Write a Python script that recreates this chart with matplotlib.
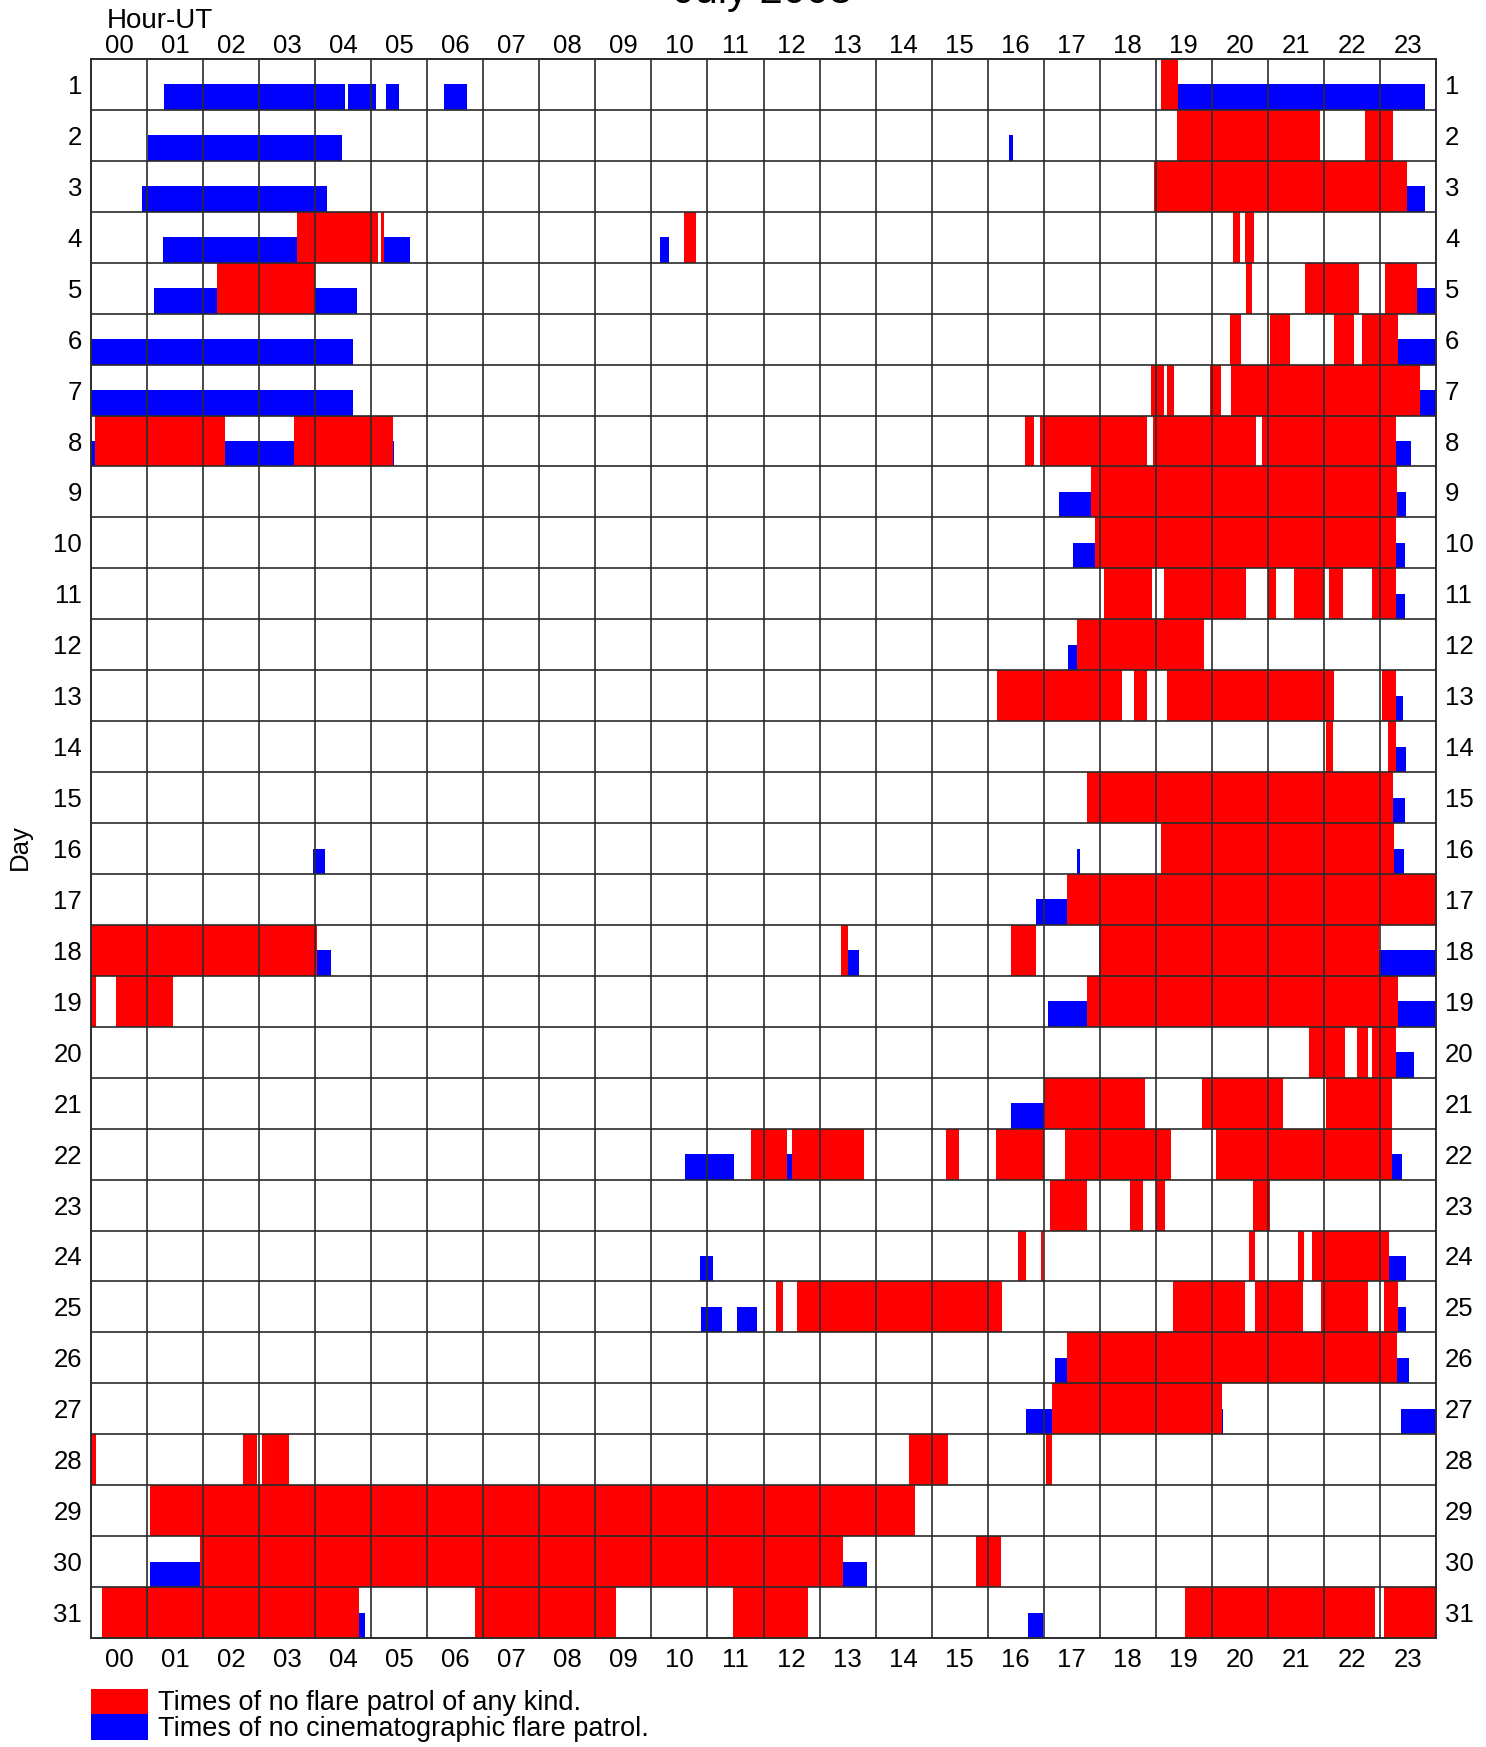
import matplotlib
matplotlib.use("Agg")
import matplotlib.pyplot as plt
from matplotlib.patches import Rectangle

plt.rcParams['font.family'] = ['Liberation Sans', 'DejaVu Sans']

# times of no flare patrol of any kind (day, start hour, end hour)
red_day = [1, 2, 2, 3,
           4, 4, 4, 4, 4,
           5, 5, 5, 5,
           6, 6, 6, 6,
           7, 7, 7, 7,
           8, 8, 8, 8, 8, 8,
           9, 10,
           11, 11, 11, 11, 11, 11,
           12,
           13, 13, 13, 13,
           14, 14, 15, 16, 17,
           18, 18, 18, 18,
           19, 19, 19,
           20, 20, 20,
           21, 21, 21,
           22, 22, 22, 22, 22, 22,
           23, 23, 23, 23,
           24, 24, 24, 24, 24,
           25, 25, 25, 25, 25, 25,
           26, 27,
           28, 28, 28, 28, 28,
           29, 30, 30,
           31, 31, 31, 31, 31]
red_start = [19.10, 19.37, 22.73, 18.96,
             3.68, 5.18, 10.59, 20.38, 20.59,
             2.25, 20.61, 21.67, 23.09,
             20.32, 21.04, 22.18, 22.68,
             18.91, 19.20, 19.96, 20.34,
             0.07, 3.62, 16.66, 16.93, 18.95, 20.90,
             17.85, 17.91,
             18.07, 19.14, 21.01, 21.46, 22.09, 22.85,
             17.59,
             16.16, 18.61, 19.20, 23.03,
             22.04, 23.14, 17.78, 19.09, 17.41,
             0.00, 13.39, 16.42, 17.99,
             0.00, 0.45, 17.78,
             21.73, 22.59, 22.85,
             17.00, 19.83, 22.03,
             11.77, 12.50, 15.25, 16.14, 17.38, 20.07,
             17.11, 18.54, 19.00, 20.73,
             16.55, 16.96, 20.66, 21.53, 21.78,
             12.23, 12.59, 19.30, 20.77, 21.95, 23.07,
             17.41, 17.14,
             0.00, 2.71, 3.06, 14.59, 17.04,
             1.05, 1.95, 15.79,
             0.20, 6.86, 11.45, 19.52, 23.07]
red_end = [19.39, 21.93, 23.23, 23.48,
           5.12, 5.22, 10.79, 20.50, 20.75,
           4.00, 20.72, 22.62, 23.66,
           20.52, 21.39, 22.54, 23.32,
           19.14, 19.33, 20.16, 23.72,
           2.40, 5.39, 16.82, 18.85, 20.79, 23.28,
           23.30, 23.28,
           18.93, 20.61, 21.14, 22.00, 22.34, 23.28,
           19.86,
           18.39, 18.85, 22.18, 23.28,
           22.16, 23.28, 23.23, 23.25, 24.00,
           4.03, 13.50, 16.86, 22.99,
           0.09, 1.46, 23.32,
           22.37, 22.78, 23.28,
           18.81, 21.27, 23.21,
           12.42, 13.80, 15.48, 17.00, 19.27, 23.21,
           17.78, 18.78, 19.17, 21.04,
           16.69, 16.99, 20.77, 21.64, 23.17,
           12.34, 16.26, 20.59, 21.63, 22.78, 23.32,
           23.30, 20.18,
           0.09, 2.96, 3.53, 15.30, 17.14,
           14.71, 13.41, 16.23,
           4.78, 9.36, 12.79, 22.91, 24.00]

# times of no cinematographic flare patrol
blue_day = [1, 1, 1, 1, 1,
            2, 2, 3, 3,
            4, 4, 4,
            5, 5, 5,
            6, 6, 7, 7, 8, 8,
            9, 9, 10, 10, 11, 12, 13, 14, 15,
            16, 16, 16, 17,
            18, 18, 18,
            19, 19, 20, 21,
            22, 22, 22,
            24, 24,
            25, 25, 25,
            26, 26, 27, 27,
            30, 30, 31, 31]
blue_start = [1.30, 4.59, 5.26, 6.30, 19.39,
              1.02, 16.38, 0.91, 23.48,
              1.29, 5.23, 10.16,
              1.12, 4.00, 23.66,
              0.00, 23.32, 0.00, 23.72, 0.00, 23.28,
              17.28, 23.30, 17.52, 23.28, 23.28, 17.43, 23.28, 23.28, 23.23,
              3.96, 17.60, 23.25, 16.87,
              4.03, 13.50, 22.99,
              17.07, 23.32, 23.28, 16.41,
              10.60, 12.42, 23.21,
              10.86, 23.17,
              10.89, 11.53, 23.32,
              17.21, 23.30, 16.68, 23.37,
              1.05, 13.41, 4.78, 16.72]
blue_end = [4.53, 5.09, 5.50, 6.71, 23.81,
            4.48, 16.46, 4.21, 23.80,
            3.68, 5.70, 10.31,
            2.25, 4.74, 24.00,
            4.67, 24.00, 4.67, 24.00, 5.41, 23.55,
            17.85, 23.47, 17.91, 23.44, 23.44, 17.59, 23.41, 23.47, 23.44,
            4.18, 17.64, 23.43, 17.41,
            4.28, 13.70, 24.00,
            17.78, 24.00, 23.61, 17.00,
            11.48, 12.50, 23.39,
            11.10, 23.47,
            11.26, 11.89, 23.47,
            17.41, 23.52, 20.20, 24.00,
            1.95, 13.84, 4.89, 16.98]

days = list(range(1, 32))
hour_labels = ["%02d" % h for h in range(24)]

W, H = 1486, 1747
fig = plt.figure(figsize=(W / 100, H / 100), dpi=100)
ax = fig.add_axes([91 / W, 1 - 1638 / H, 1345 / W, 1579 / H])

# blue sits in the lower half of each day row, red fills the whole row
ax.barh([d + 0.25 for d in blue_day], [e - s for s, e in zip(blue_start, blue_end)],
        left=blue_start, height=0.5, color="#0000ff", linewidth=0, zorder=1)
ax.barh(red_day, [e - s for s, e in zip(red_start, red_end)],
        left=red_start, height=1.0, color="#ff0000", linewidth=0, zorder=2)

ax.set_xlim(0, 24)
ax.set_ylim(31.5, 0.5)

gc = "#2b2b2b"
ax.vlines(range(1, 24), 0.5, 31.5, color=gc, linewidth=1.2, zorder=3)
ax.hlines([d + 0.5 for d in days[:-1]], 0, 24, color=gc, linewidth=1.2, zorder=3)
for s in ax.spines.values():
    s.set_color(gc)
    s.set_linewidth(1.4)

fs = 18.5
ticks = [h + 0.5 for h in range(24)]
ax.set_xticks(ticks)
ax.set_xticklabels(hour_labels, fontsize=fs)
ax.tick_params(axis="x", length=0, top=False, bottom=False,
               labeltop=False, labelbottom=True, pad=7)
top = ax.secondary_xaxis("top")
top.set_xticks(ticks)
top.set_xticklabels(hour_labels, fontsize=fs)
top.tick_params(length=0, pad=1)
top.spines["top"].set_visible(False)

ax.set_yticks(days)
ax.set_yticklabels([str(d) for d in days], fontsize=fs)
ax.tick_params(axis="y", length=0, left=False, right=False,
               labelleft=True, labelright=True, pad=6.5)

fig.text(763 / W, 1 - 3.5 / H, "July 2008", fontsize=30, ha="center", va="baseline")
fig.text(107 / W, 1 - 28 / H, "Hour-UT", fontsize=20, ha="left", va="baseline")
fig.text(20 / W, 1 - 847 / H, "Day", fontsize=fs, rotation=90, ha="center", va="center")

# legend
fig.patches.append(Rectangle((91 / W, 1 - 1714 / H), 57 / W, 25 / H,
                             transform=fig.transFigure, color="#ff0000", linewidth=0))
fig.patches.append(Rectangle((91 / W, 1 - 1740 / H), 57 / W, 26 / H,
                             transform=fig.transFigure, color="#0000ff", linewidth=0))
fig.text(158 / W, 1 - 1710 / H, "Times of no flare patrol of any kind.",
         fontsize=19.5, ha="left", va="baseline")
fig.text(158 / W, 1 - 1736 / H, "Times of no cinematographic flare patrol.",
         fontsize=19.5, ha="left", va="baseline")

fig.savefig("out.png", dpi=100)
